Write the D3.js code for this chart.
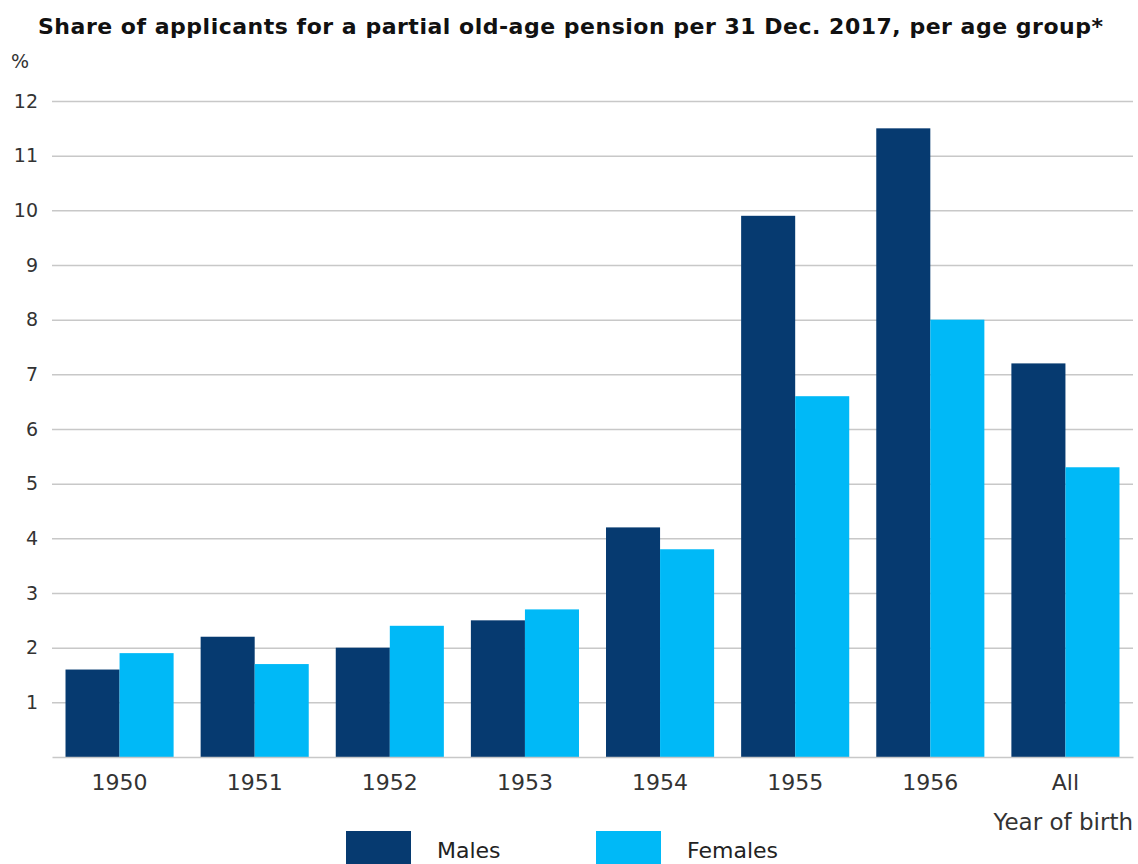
<!DOCTYPE html>
<html>
<head>
<meta charset="utf-8">
<script src="https://cdn.jsdelivr.net/npm/d3@7"></script>
<style>
  body { margin: 0; background: #fff; }
  text { font-family: "DejaVu Sans", Verdana, sans-serif; }
</style>
</head>
<body>
<script>
var categories = ["1950", "1951", "1952", "1953", "1954", "1955", "1956", "All"];
var males = [1.6, 2.2, 2.0, 2.5, 4.2, 9.9, 11.5, 7.2];
var females = [1.9, 1.7, 2.4, 2.7, 3.8, 6.6, 8.0, 5.3];
var seriesNames = ["Males", "Females"];
var yTicks = [1, 2, 3, 4, 5, 6, 7, 8, 9, 10, 11, 12];

var colors = ["#063a70", "#00b9f7"];

var W = 1138, H = 864;
var margin = {top: 101, right: 5, bottom: 107, left: 52},
    width = W - margin.left - margin.right,
    height = H - margin.top - margin.bottom;

var svg = d3.select("body").append("svg")
    .attr("width", W)
    .attr("height", H);

svg.append("text")
    .attr("x", 38)
    .attr("y", 34)
    .style("font-size", "22px")
    .style("font-weight", "bold")
    .attr("fill", "#111")
    .attr("textLength", 1065)
    .attr("lengthAdjust", "spacing")
    .text("Share of applicants for a partial old-age pension per 31 Dec. 2017, per age group*");

svg.append("text")
    .attr("x", 11)
    .attr("y", 68)
    .style("font-size", "19px")
    .attr("fill", "#333")
    .text("%");

var g = svg.append("g")
    .attr("transform", "translate(" + margin.left + "," + margin.top + ")");

var x = d3.scaleBand()
    .domain(categories)
    .range([0, width])
    .paddingInner(0.2)
    .paddingOuter(0.1);

var x1 = d3.scaleBand()
    .domain(seriesNames)
    .range([0, x.bandwidth()]);

var y = d3.scaleLinear()
    .domain([0, 12])
    .range([height, 0]);

// gridlines + y labels
var yAxis = g.append("g")
    .call(d3.axisLeft(y).tickValues(yTicks).tickSize(-width).tickPadding(14));
yAxis.select(".domain").remove();
yAxis.selectAll(".tick line").attr("stroke", "#c8c8c8").attr("stroke-width", 1.5);
yAxis.selectAll(".tick text")
    .style("font-size", "19px")
    .style("font-family", "'DejaVu Sans', Verdana, sans-serif")
    .attr("fill", "#333");

var table = categories.map(function(c, i) {
  return {cat: c, values: [males[i], females[i]]};
});

var groups = g.selectAll(".grp")
    .data(table)
    .enter().append("g")
    .attr("transform", function(d) { return "translate(" + x(d.cat) + ",0)"; });

groups.selectAll("rect")
    .data(function(d) { return d.values.map(function(v, j) { return {name: seriesNames[j], v: v, j: j}; }); })
    .enter().append("rect")
    .attr("x", function(d) { return x1(d.name); })
    .attr("y", function(d) { return y(d.v); })
    .attr("width", x1.bandwidth())
    .attr("height", function(d) { return height - y(d.v); })
    .attr("fill", function(d) { return colors[d.j]; });

// baseline + x labels
var xAxis = g.append("g")
    .attr("transform", "translate(0," + height + ")")
    .call(d3.axisBottom(x).tickSize(0).tickPadding(17));
xAxis.select(".domain").attr("stroke", "#c8c8c8").attr("stroke-width", 1.5);
xAxis.selectAll(".tick text")
    .style("font-size", "22px")
    .style("font-family", "'DejaVu Sans', Verdana, sans-serif")
    .attr("fill", "#333");

svg.append("text")
    .attr("x", 1133)
    .attr("y", 830)
    .attr("text-anchor", "end")
    .style("font-size", "23px")
    .attr("fill", "#333")
    .text("Year of birth");

// legend
var legX = [346, 596];
var leg = svg.selectAll(".leg")
    .data(seriesNames)
    .enter().append("g")
    .attr("transform", function(d, i) { return "translate(" + legX[i] + ",831)"; });
leg.append("rect")
    .attr("width", 65)
    .attr("height", 40)
    .attr("fill", function(d, i) { return colors[i]; });
leg.append("text")
    .attr("x", 91)
    .attr("y", 27)
    .style("font-size", "22px")
    .attr("fill", "#222")
    .text(function(d) { return d; });
</script>
</body>
</html>
